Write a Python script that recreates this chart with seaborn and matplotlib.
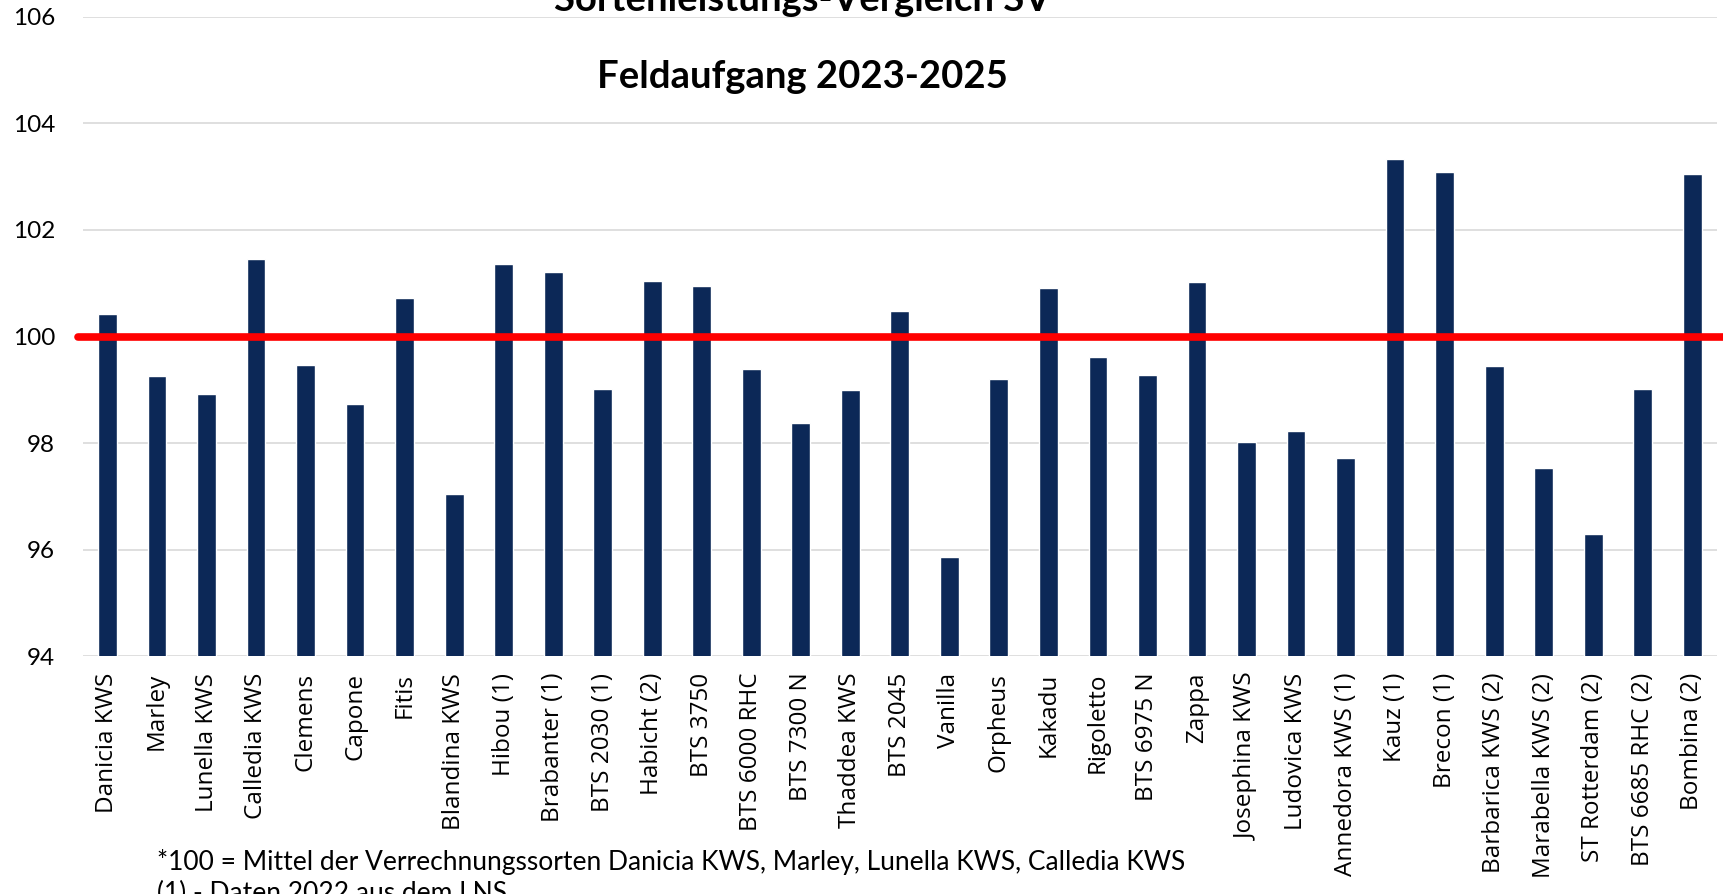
import matplotlib.pyplot as plt
import pandas as pd
import seaborn as sns

# ----------------------------------------------------------------------------------------------------------------------
# Data (relative Feldaufgang, 100 = Mittel der Verrechnungssorten)

sorten = ['Danicia KWS', 'Marley', 'Lunella KWS', 'Calledia KWS', 'Clemens', 'Capone', 'Fitis',
          'Blandina KWS', 'Hibou (1)', 'Brabanter (1)', 'BTS 2030 (1)', 'Habicht (2)', 'BTS 3750',
          'BTS 6000 RHC', 'BTS 7300 N', 'Thaddea KWS', 'BTS 2045', 'Vanilla', 'Orpheus', 'Kakadu',
          'Rigoletto', 'BTS 6975 N', 'Zappa', 'Josephina KWS', 'Ludovica KWS', 'Annedora KWS (1)',
          'Kauz (1)', 'Brecon (1)', 'Barbarica KWS (2)', 'Marabella KWS (2)', 'ST Rotterdam (2)',
          'BTS 6685 RHC (2)', 'Bombina (2)']
feldaufgang = [100.42, 99.25, 98.92, 101.46, 99.47, 98.73, 100.73,
               97.04, 101.37, 101.21, 99.02, 101.04, 100.94,
               99.39, 98.38, 99.00, 100.48, 95.86, 99.20, 100.92,
               99.62, 99.27, 101.02, 98.01, 98.23, 97.72,
               103.34, 103.09, 99.45, 97.53, 96.29,
               99.01, 103.05]
y_ticks = [94, 96, 98, 100, 102, 104, 106]

titel = ['Sortenleistungs-Vergleich SV', 'Feldaufgang 2023-2025']
fussnoten = ['*100 = Mittel der Verrechnungssorten Danicia KWS, Marley, Lunella KWS, Calledia KWS',
             '(1) - Daten 2022 aus dem LNS']

df = pd.DataFrame({'Sorte': sorten, 'Feldaufgang': feldaufgang})

# ----------------------------------------------------------------------------------------------------------------------
# Plot
sns.set_theme(style='white')
plt.rcParams['font.family'] = ['Lato', 'DejaVu Sans']
plt.rcParams['text.color'] = 'black'
plt.rcParams['xtick.color'] = 'black'
plt.rcParams['ytick.color'] = 'black'

fig = plt.figure(figsize=(17.23, 8.94), dpi=100)
ax = fig.add_axes([0.048, 0.2662, 0.9485, 0.7148])

sns.barplot(data=df, x='Sorte', y='Feldaufgang', order=sorten, color='#0c2857',
            saturation=1, width=0.38, ax=ax, zorder=3)

ax.set_ylim(94, 106)
ax.set_yticks(y_ticks)
ax.set_yticklabels([str(t) for t in y_ticks], fontsize=17.5)
ax.yaxis.grid(True, color='#d9d9d9', linewidth=1.2, zorder=0)
ax.set_axisbelow(True)
for s in ax.spines.values():
    s.set_visible(False)
ax.set_xlabel('')
ax.set_ylabel('')

ax.tick_params(axis='y', length=0, pad=20)
ax.tick_params(axis='x', length=4, color='#d9d9d9', width=1.2, pad=8)
for lbl in ax.get_xticklabels():
    lbl.set_rotation(90)
    lbl.set_fontsize(17.5)
    lbl.set_family(['Open Sans', 'DejaVu Sans'])
    lbl.set_verticalalignment('top')

# reference line at 100
ax.axhline(100, xmin=-0.003, xmax=1.01, color='#ff0000', linewidth=5.5, zorder=4, clip_on=False)

# title
fig.text(0.4655, 1.0, titel[0], ha='center', va='center', fontsize=27.5, fontweight='bold')
fig.text(0.4655, 0.914, titel[1], ha='center', va='center', fontsize=27.5, fontweight='bold')

# footnotes
fig.text(0.091, 1 - 862 / 894, fussnoten[0], ha='left', va='center', fontsize=19)
fig.text(0.091, 1 - 893 / 894, fussnoten[1], ha='left', va='center', fontsize=19)

fig.savefig('out.png', dpi=100)
